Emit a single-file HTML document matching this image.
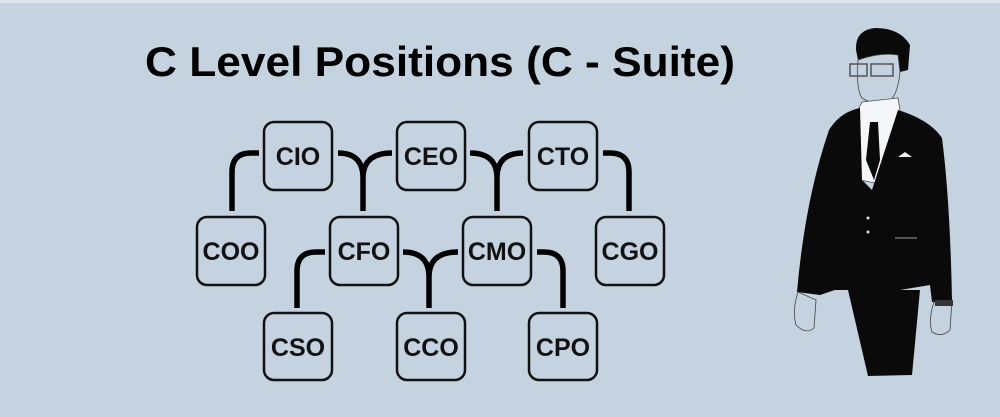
<!DOCTYPE html>
<html><head><meta charset="utf-8"><style>
html,body{margin:0;padding:0;background:#c5d3e1;}
svg{display:block;}
</style></head><body>
<svg width="1000" height="417" viewBox="0 0 1000 417" xmlns="http://www.w3.org/2000/svg">
<rect width="1000" height="417" fill="#c5d3e1"/>
<rect width="1000" height="3" fill="#dde5ee"/>
<text x="145" y="76" font-family="Liberation Sans, sans-serif" font-weight="bold" font-size="42" textLength="590" lengthAdjust="spacingAndGlyphs" fill="#000">C Level Positions (C - Suite)</text>
<g fill="none" stroke="#000" stroke-width="5.5">
<path d="M232 211 V172 Q232 153 251 153 H259"/>
<path d="M338 153 Q363 153 363 178 V211 M392 153 Q363 153 363 178"/>
<path d="M470 153 Q497 153 497 178 V211 M523 153 Q497 153 497 178"/>
<path d="M603 153 H610 Q629 153 629 172 V211"/>
<path d="M325 252 H316 Q297 252 297 271 V308"/>
<path d="M403 252 Q429 252 429 277 V308 M458 252 Q429 252 429 277"/>
<path d="M537 252 H544 Q563 252 563 271 V308"/>
</g>
<g fill="#c5d3e1" stroke="#111" stroke-width="2.5">
<rect x="264" y="122" width="68" height="68" rx="10"/>
<rect x="397" y="122" width="68" height="68" rx="10"/>
<rect x="529" y="122" width="68" height="68" rx="10"/>
<rect x="197" y="217" width="68" height="68" rx="10"/>
<rect x="330" y="217" width="68" height="68" rx="10"/>
<rect x="463" y="217" width="68" height="68" rx="10"/>
<rect x="596" y="217" width="68" height="68" rx="10"/>
<rect x="264" y="313" width="68" height="67" rx="10"/>
<rect x="397" y="313" width="68" height="67" rx="10"/>
<rect x="529" y="313" width="68" height="67" rx="10"/>
</g>
<g font-family="Liberation Sans, sans-serif" font-weight="bold" font-size="25" text-anchor="middle" fill="#111">
<text x="298" y="165">CIO</text>
<text x="431" y="165">CEO</text>
<text x="563" y="165">CTO</text>
<text x="231" y="260">COO</text>
<text x="364" y="260">CFO</text>
<text x="497" y="260">CMO</text>
<text x="630" y="260">CGO</text>
<text x="298" y="356">CSO</text>
<text x="431" y="356">CCO</text>
<text x="563" y="356">CPO</text>
</g>
<!-- person -->
<g>
<path d="M856 50 Q855 30 875 28 Q900 28 910 45 L908 70 L900 72 L898 55 Q880 52 858 60 Z" fill="#0a0a0a"/>
<path d="M858 60 Q856 90 862 98 Q872 105 888 103 Q898 95 900 72 L898 55 Q880 52 858 60 Z" fill="#c5d3e1" stroke="#444" stroke-width="0.8"/>
<rect x="850" y="64" width="17" height="12" fill="none" stroke="#555" stroke-width="1.5"/>
<rect x="871" y="64" width="22" height="12" fill="none" stroke="#555" stroke-width="1.5"/>
<path d="M862 102 L858 110 L860 180 L885 185 L900 110 L898 98 Z" fill="#f4f6f8" stroke="#555" stroke-width="0.8"/>
<path d="M829 130 Q840 112 860 108 L862 180 L872 190 L898 110 Q930 120 942 138 Q950 200 952 300 L932 302 L930 285 L900 290 L850 290 L835 290 L820 295 L797 292 Q805 200 829 130 Z" fill="#0a0a0a"/>
<path d="M870 122 L878 122 L880 160 L874 180 L866 160 Z" fill="#0a0a0a"/>
<path d="M848 290 L920 290 L912 375 L868 376 Z" fill="#0a0a0a"/>
<path d="M798 292 Q792 310 796 325 Q806 335 814 328 L816 300 Z" fill="#c5d3e1" stroke="#444" stroke-width="0.8"/>
<path d="M934 302 Q928 320 932 332 Q942 338 950 330 L952 300 Z" fill="#c5d3e1" stroke="#444" stroke-width="0.8"/>
<rect x="935" y="300" width="18" height="6" fill="#333"/>
<circle cx="868" cy="218" r="1.5" fill="#ddd"/><circle cx="868" cy="232" r="1.5" fill="#ddd"/>
<rect x="895" y="237" width="22" height="2" fill="#555"/>
<path d="M898 157 L912 157 L905 152 Z" fill="#eee"/>
</g>
</svg>
</body></html>
